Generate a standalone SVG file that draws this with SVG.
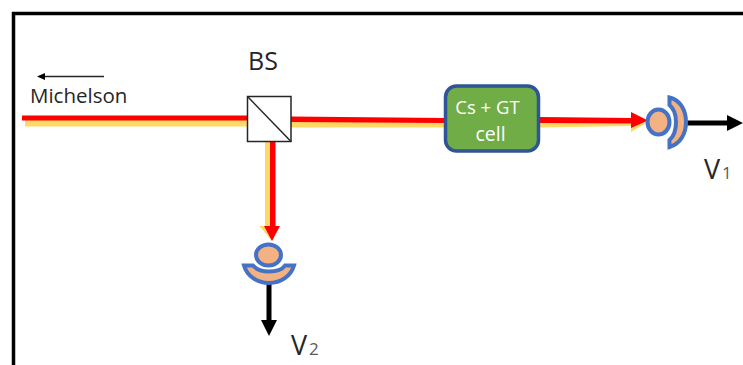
<svg xmlns="http://www.w3.org/2000/svg" width="743" height="365" viewBox="0 0 743 365">
<style>
text{font-family:"Open Sans","Noto Sans","Liberation Sans",sans-serif;fill:#262626}
.det{fill:#f4b183;stroke:#4472c4;stroke-width:4}
.blk{fill:none;stroke:#000;stroke-width:5}
</style>
<rect width="743" height="365" fill="#fff"/>
<path d="M13.500 365V13.500H743" fill="none" stroke="#000" stroke-width="3.500"/>
<g id="connectors">
<path d="M40 76.500H104" stroke="#262626" stroke-width="1.300" fill="none"/>
<path d="M37 76.500L45 73V80Z" fill="#000"/>
<rect x="25" y="120" width="222" height="6.500" fill="#ffd966"/>
<rect x="22" y="115.500" width="225" height="5" fill="#f00"/>
<path d="M291 121.500L445 122V127.500L291 127.500Z" fill="#ffd966"/>
<path d="M291 116.500L445 118V123L291 122Z" fill="#f00"/>
<path d="M540 122L632 123V126L540 127.500Z" fill="#ffd966"/>
<path d="M631 125L648 122L631 132Z" fill="#ffd966"/>
<path d="M540 117L632 118V123.500L540 123Z" fill="#f00"/>
<path d="M631 112L648 120.500L631 128Z" fill="#f00"/>
<rect x="265" y="142" width="5.500" height="85" fill="#ffd966"/>
<path d="M259.500 226H272V241Z" fill="#ffd966"/>
<rect x="270" y="142" width="5.500" height="85" fill="#f00"/>
<path d="M264 226H280L272 241Z" fill="#f00"/>
<path class="blk" d="M687 123H728"/>
<path d="M727 115L743 123L727 131Z" fill="#000"/>
<path class="blk" d="M269 284V321"/>
<path d="M261 320H277L269 336Z" fill="#000"/>
</g>
<g id="bs">
<rect x="247.500" y="96.500" width="43.500" height="45" fill="#fff" stroke="#262626" stroke-width="1.500"/>
<path d="M247.500 96.500L291 141.500" stroke="#262626" stroke-width="1.500" fill="none"/>
<text x="248" y="70" font-size="25">BS</text>
</g>
<g id="michelson"><text x="30" y="103" font-size="20.500">Michelson</text></g>
<g id="cell">
<rect x="445.500" y="86" width="93" height="65" rx="11" fill="#70ad47" stroke="#2f5597" stroke-width="3.500"/>
<text x="487.500" y="114" font-size="18.500" text-anchor="middle" style="fill:#fff">Cs + GT</text>
<text x="490.500" y="141" font-size="19.500" text-anchor="middle" style="fill:#fff">cell</text>
</g>
<g id="detector1">
<ellipse class="det" cx="658.500" cy="122" rx="11" ry="12.500"/>
<path class="det" d="M669.500 97.500C680 100 686 110 686 122C686 134 680 144 669.500 147V140C673 137 676 130 676 122C676 114 673 108 669.500 105Z"/>
<text x="704" y="179" font-size="27">V<tspan font-size="17" dx="2" fill="#595959">1</tspan></text>
</g>
<g id="detector2">
<ellipse class="det" cx="268.500" cy="255" rx="12.500" ry="10.500"/>
<path class="det" d="M244 265.500H253C257 270 262 271.500 269 271.500C276 271.500 282 270 285 265.500H294C291 276 281 283 269 283C257 283 247 276 244 265.500Z"/>
<text x="291" y="355" font-size="27">V<tspan font-size="17" dx="2" fill="#595959">2</tspan></text>
</g>
</svg>
